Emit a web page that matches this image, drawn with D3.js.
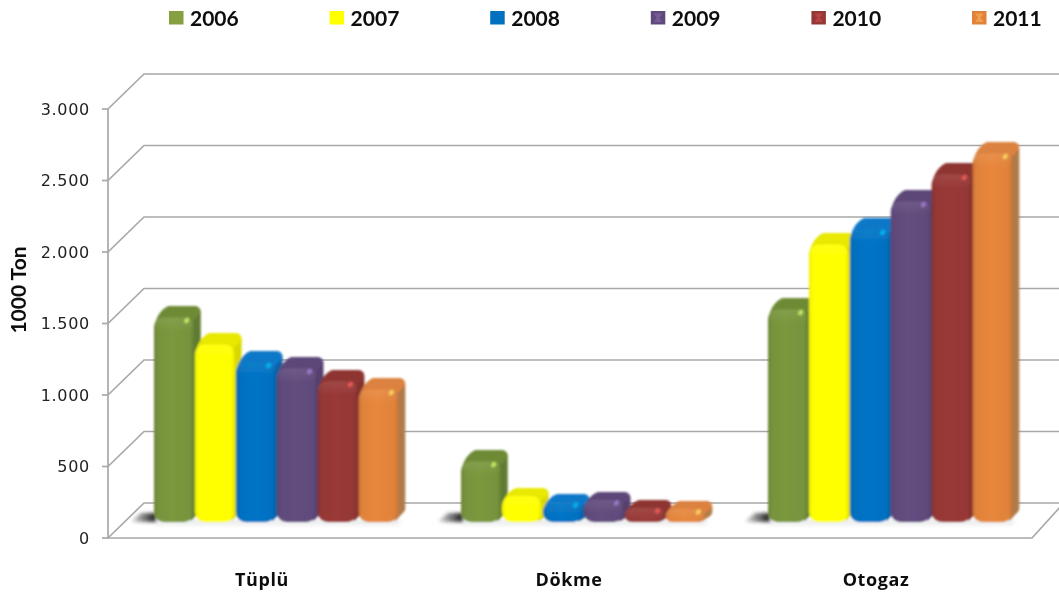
<!DOCTYPE html>
<html><head><meta charset="utf-8">
<script src="https://cdn.jsdelivr.net/npm/d3@7"></script>
<style>html,body{margin:0;padding:0;background:#fff;overflow:hidden}svg{display:block}</style>
</head><body><svg id="c" width="1059" height="595"></svg>
<script>
const categories = ["Tüplü","Dökme","Otogaz"];
const years = ["2006","2007","2008","2009","2010","2011"];
const tupluValues = [1430,1241,1115,1073,982,926];
const dokmeValues = [423,182,140,154,98,91];
const otogazValues = [1486,1940,2045,2241,2430,2577];
const tickValues = [0,500,1000,1500,2000,2500,3000];
const tickLabels = ["0","500","1.000","1.500","2.000","2.500","3.000"];
const seriesColors = ["#77933C","#FFFF00","#0070C0","#604A7B","#953735","#E0823A"];
const sideColors = ["#5F7A30","#D8D800","#0A62A6","#54406E","#84302E","#B07A48"];
const topColors = ["#6E8A36","#E8E800","#0A78C8","#5C4778","#8E3532","#DC8240"];
const allValues = [tupluValues,dokmeValues,otogazValues];

const svg = d3.select("#c");
const defs = svg.append("defs");
const blur = (id,s)=>defs.append("filter").attr("id",id).attr("x","-30%").attr("y","-30%").attr("width","160%").attr("height","160%")
  .append("feGaussianBlur").attr("stdDeviation",s);
blur("b1",0.8); blur("bt",0.4); blur("b2",1.4); blur("b3",2); blur("bs",0.7);

const y = d3.scaleLinear().domain([0,3000]).range([538,109]);
const x0 = d3.scaleBand().domain(categories).range([122.5,1043.5]);
const x1 = d3.scaleBand().domain(years).range([31.5,277]);
const depthX = 36, depthY = 35, barLift = 16;
const barW = x1.bandwidth()-1.2;

years.forEach((yr,i)=>{
  const c = seriesColors[i], dk = d3.color(c).darker(i===1?0.2:0.3).formatHex(), lt = d3.color(c).brighter(0.1).formatHex();
  const g = defs.append("linearGradient").attr("id","f"+i);
  [[0,dk],[0.1,c],[0.45,lt],[0.9,c],[1,dk]].forEach(s=>g.append("stop").attr("offset",s[0]).attr("stop-color",s[1]));
});
const sg = defs.append("linearGradient").attr("id","sh");
sg.append("stop").attr("offset",0).attr("stop-color","#000").attr("stop-opacity",0);
sg.append("stop").attr("offset",0.45).attr("stop-color","#333").attr("stop-opacity",0.55);
sg.append("stop").attr("offset",1).attr("stop-color","#111").attr("stop-opacity",1);
const bev = defs.append("linearGradient").attr("id","bev").attr("x1",0).attr("y1",0).attr("x2",0).attr("y2",1);
bev.append("stop").attr("offset",0).attr("stop-color","#fff").attr("stop-opacity",0.08);
bev.append("stop").attr("offset",1).attr("stop-color","#fff").attr("stop-opacity",0);

const grid = svg.append("g").attr("fill","none").attr("stroke","#a8a8a8").attr("stroke-width",1.7).attr("filter","url(#bt)");
tickValues.forEach(t=>{
  grid.append("path").attr("d",`M108,${y(t)}L${108+depthX},${y(t)-depthY}L1059,${y(t)-depthY}`);
  grid.append("path").attr("d",`M102,${y(t)}L108,${y(t)}`);
});
grid.append("path").attr("d",`M108,${y(3000)}L108,${y(0)}L1032,${y(0)}L1062,${y(0)-33}`);

const tl = svg.append("g").attr("filter","url(#bt)").attr("font-family","'DejaVu Sans'").attr("font-size",16).attr("fill","#222").attr("text-anchor","end").style("letter-spacing","0.7px");
tickValues.forEach((t,i)=>tl.append("text").attr("x",90).attr("y",y(t)+5.5).text(tickLabels[i]));

svg.append("text").attr("filter","url(#bt)").attr("transform","translate(26,290) rotate(-90)").attr("text-anchor","middle")
  .attr("font-family","Lato").attr("font-weight",700).attr("font-size",21).attr("fill","#111").text("1000 Ton");

svg.append("g").attr("filter","url(#bt)").selectAll("text").data(categories).join("text")
  .attr("x",c=>x0(c)+x0.bandwidth()/2-14).attr("y",586).attr("text-anchor","middle")
  .attr("font-family","'Open Sans'").attr("font-weight",700).attr("font-size",18).attr("fill","#111").style("letter-spacing","0.6px").text(c=>c);

const lx = d3.scalePoint().domain(years).range([169,972]);
const lg = svg.append("g").attr("filter","url(#bt)");
years.forEach((yr,i)=>{
  const g = lg.append("g").attr("transform",`translate(${lx(yr)},11)`);
  g.append("rect").attr("width",14.5).attr("height",13.5).attr("fill",i===0?"#84A040":seriesColors[i]);
  if(i>2){
    const lite = d3.color(seriesColors[i]).brighter(1.0).formatHex();
    g.append("path").attr("d","M3,2.5L11.5,2.5L8.5,6.7L11.5,11L3,11L6,6.7Z").attr("fill",lite).attr("opacity",0.55);
  }
  g.append("text").attr("x",21).attr("y",14.5).attr("font-family","Lato").attr("font-weight",700).attr("font-size",21).attr("fill","#0a0a0a").text(yr);
});

const base = y(0)-barLift;
const marks = svg.append("g").attr("filter","url(#b1)");
categories.forEach((cat,ci)=>{
  const gx = x0(cat);
  const g = marks.append("g");
  const left = gx+x1(years[0]);
  g.append("path").attr("d",`M${left-24},${base}L${left-13},${base-9}L${left+2},${base-9}L${left+2},${base}Z`).attr("fill","url(#sh)").attr("filter","url(#b2)");
  g.append("rect").attr("x",left).attr("y",base-3).attr("width",x1.step()*6).attr("height",6).attr("fill","#c4c8ca").attr("opacity",0.35).attr("filter","url(#b3)");
  years.forEach((yr,i)=>{
    const v = allValues[ci][i];
    const x = gx+x1(yr), top = y(v)-barLift, h = base-top;
    const dy = h<40 ? 8 : 11.5, dx = 7;
    const r = Math.min(10,h/2);
    const R = x+barW;
    const crown = `M${x+0.5},${top+r}C${x+1},${top+3} ${x+dx-1},${top-dy+3} ${x+dx+8},${top-dy}`+
      `L${R+dx-7},${top-dy}Q${R+dx},${top-dy} ${R+dx},${top-dy+Math.min(7,h/2)}`;
    g.append("path").attr("d",crown+`L${R+dx},${base-dy-2}Q${R+dx},${base-dy} ${R+dx-2},${base-dy+2}L${R-3},${base-1}Z`).attr("fill",sideColors[i]);
    g.append("path").attr("d",crown+`L${R-2},${top+5}Z`).attr("fill",topColors[i]);
    g.append("rect").attr("x",x).attr("y",top).attr("width",barW).attr("height",h).attr("rx",r).attr("ry",r).attr("fill",`url(#f${i})`);
    g.append("rect").attr("x",x).attr("y",top).attr("width",barW).attr("height",Math.min(14,h)).attr("rx",r).attr("ry",r).attr("fill","url(#bev)");
    if(i!==1){
      const cy = top+Math.min(3,h/3);
      g.append("ellipse").attr("cx",R-7).attr("cy",cy).attr("rx",2).attr("ry",3)
        .attr("transform",`rotate(35 ${R-7} ${cy})`).attr("filter","url(#bs)")
        .attr("fill",d3.color(seriesColors[i]).brighter(1.6).formatHex()).attr("opacity",0.8);
    }
  });
});
</script></body></html>
